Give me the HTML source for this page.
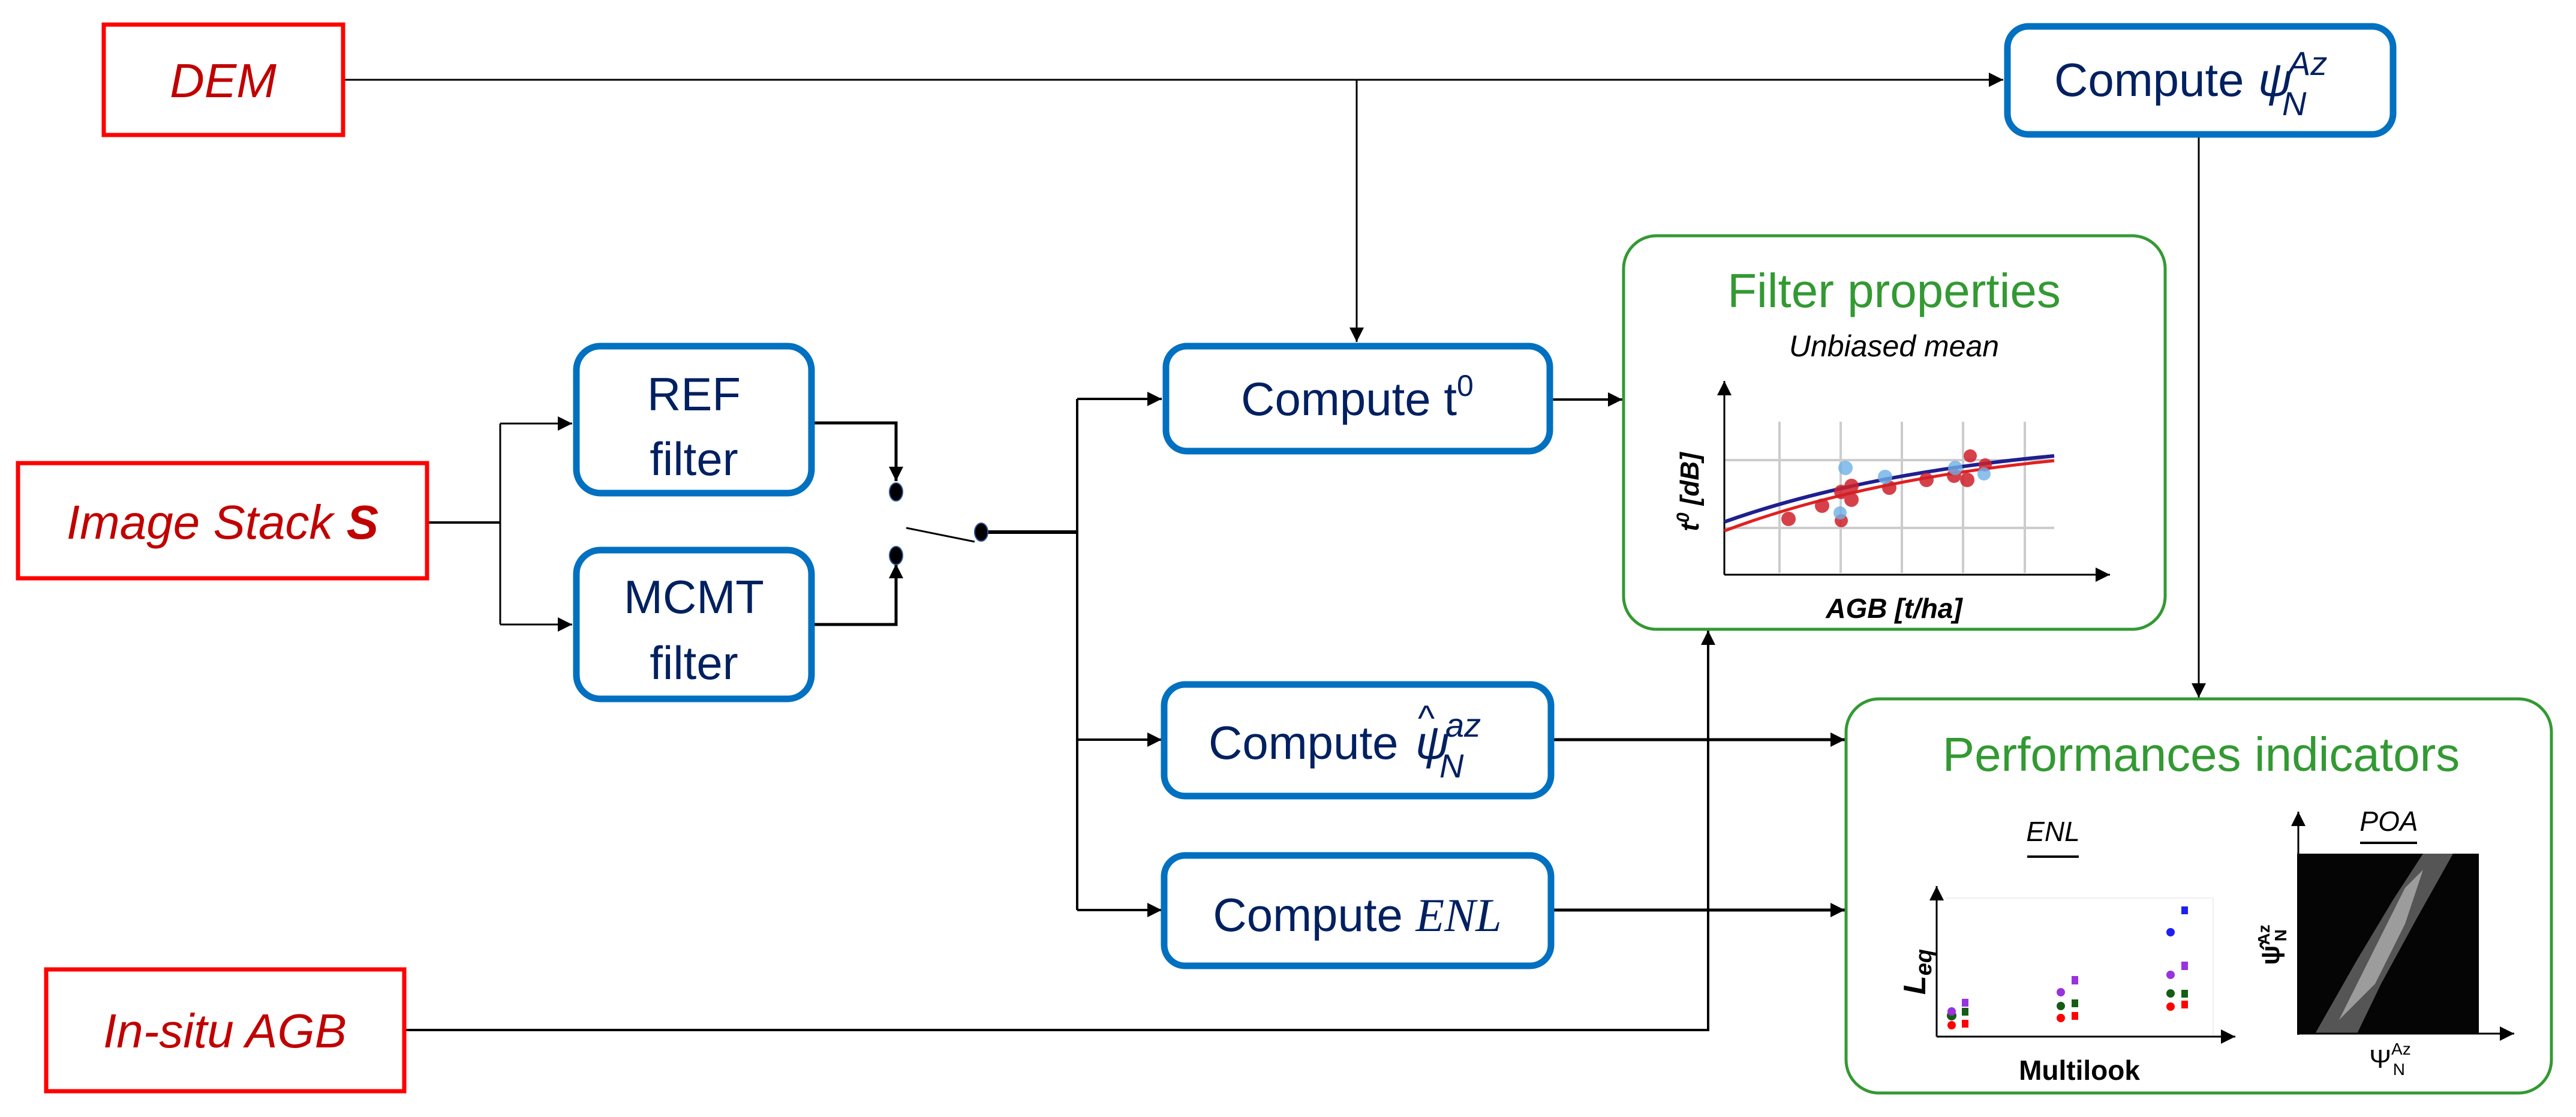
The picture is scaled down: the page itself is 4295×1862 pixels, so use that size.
<!DOCTYPE html>
<html><head><meta charset="utf-8"><style>
html,body{margin:0;padding:0;background:#fff;}
svg{display:block;}
text{font-family:"Liberation Sans",sans-serif;}
</style></head><body>
<svg width="4295" height="1862" viewBox="0 0 4295 1862" xmlns="http://www.w3.org/2000/svg">
<defs>
<marker id="b" viewBox="0 0 10 10" refX="10" refY="5" markerWidth="24" markerHeight="24" markerUnits="userSpaceOnUse" orient="auto"><path d="M0,0 L10,5 L0,10 z" fill="#000"/></marker>
</defs>
<g stroke="#000" fill="none">
<line x1="572" y1="133" x2="3340" y2="133" stroke-width="3" marker-end="url(#b)"/>
<line x1="2262" y1="133" x2="2262" y2="570" stroke-width="3" marker-end="url(#b)"/>
<line x1="3666" y1="228" x2="3666" y2="1163" stroke-width="3" marker-end="url(#b)"/>
<line x1="712" y1="871" x2="834" y2="871" stroke-width="4"/>
<line x1="834" y1="706" x2="834" y2="1041" stroke-width="3"/>
<line x1="834" y1="706" x2="954" y2="706" stroke-width="3" marker-end="url(#b)"/>
<line x1="834" y1="1041" x2="954" y2="1041" stroke-width="3" marker-end="url(#b)"/>
<polyline points="1358,705 1494,705 1494,802" stroke-width="5" marker-end="url(#b)"/>
<polyline points="1358,1041 1494,1041 1494,940" stroke-width="5" marker-end="url(#b)"/>
<line x1="1511" y1="880" x2="1625" y2="903" stroke-width="3"/>
<line x1="1636" y1="887" x2="1796" y2="887" stroke-width="6"/>
<line x1="1796" y1="665" x2="1796" y2="1517" stroke-width="4"/>
<line x1="1796" y1="665" x2="1937" y2="665" stroke-width="4" marker-end="url(#b)"/>
<line x1="1796" y1="1233" x2="1937" y2="1233" stroke-width="4" marker-end="url(#b)"/>
<line x1="1796" y1="1517" x2="1937" y2="1517" stroke-width="4" marker-end="url(#b)"/>
<line x1="2588" y1="666" x2="2705" y2="666" stroke-width="4" marker-end="url(#b)"/>
<line x1="2588" y1="1233" x2="3076" y2="1233" stroke-width="5" marker-end="url(#b)"/>
<line x1="2588" y1="1517" x2="3076" y2="1517" stroke-width="5" marker-end="url(#b)"/>
<polyline points="674,1717 2848,1717 2848,1051" stroke-width="4" marker-end="url(#b)"/>
</g>
<g fill="#000" stroke="#2f5597" stroke-width="2">
<ellipse cx="1494" cy="820" rx="11" ry="15"/>
<ellipse cx="1494" cy="926" rx="11" ry="15"/>
<ellipse cx="1636" cy="887" rx="11" ry="15"/>
</g>
<g fill="#fff" stroke="#ff0000" stroke-width="7">
<rect x="173" y="41" width="399" height="184"/>
<rect x="30" y="772" width="682" height="192"/>
<rect x="77" y="1616" width="597" height="203"/>
</g>
<g fill="#c00000" font-style="italic" font-size="80" text-anchor="middle">
<text x="372" y="162">DEM</text>
<text x="371" y="898">Image Stack <tspan font-weight="bold">S</tspan></text>
<text x="375" y="1746">In-situ AGB</text>
</g>
<g fill="#fff" stroke="#0070c0" stroke-width="11">
<rect x="961" y="577" width="392" height="245" rx="40"/>
<rect x="961" y="917" width="392" height="248" rx="40"/>
<rect x="1944" y="577" width="640" height="175" rx="35"/>
<rect x="1941" y="1141" width="645" height="186" rx="35"/>
<rect x="1941" y="1426" width="645" height="184" rx="35"/>
<rect x="3347" y="44" width="643" height="180" rx="35"/>
</g>
<g fill="#002060" font-size="78" text-anchor="middle">
<text x="1157" y="684">REF</text>
<text x="1157" y="792">filter</text>
<text x="1157" y="1022">MCMT</text>
<text x="1157" y="1132">filter</text>
<text x="2263" y="692">Compute t<tspan dy="-32" font-size="50">0</tspan></text>
<text x="2263" y="1552">Compute <tspan font-family="Liberation Serif" font-style="italic">ENL</tspan></text>
</g>
<g fill="#002060" font-size="78">
<text x="2015" y="1265">Compute</text>
<text x="2360" y="1265" font-family="Liberation Serif" font-style="italic">ψ</text>
<text x="2364" y="1218" font-family="Liberation Serif" font-size="60">^</text>
<text x="2410" y="1228" font-family="Liberation Serif" font-style="italic" font-size="56">az</text>
<text x="2400" y="1296" font-family="Liberation Serif" font-style="italic" font-size="56">N</text>
<text x="3425" y="160">Compute</text>
<text x="3765" y="160" font-family="Liberation Serif" font-style="italic">ψ</text>
<text x="3815" y="125" font-family="Liberation Serif" font-style="italic" font-size="56">Az</text>
<text x="3805" y="192" font-family="Liberation Serif" font-style="italic" font-size="56">N</text>
</g>
<g fill="none" stroke="#339933" stroke-width="5">
<rect x="2707" y="393" width="903" height="656" rx="55"/>
<rect x="3078" y="1165" width="1176" height="657" rx="55"/>
</g>
<g fill="#339933" text-anchor="middle" font-size="80">
<text x="3158" y="512">Filter properties</text>
<text x="3670" y="1285">Performances indicators</text>
</g>
<text x="3158" y="594" font-size="50" font-style="italic" text-anchor="middle">Unbiased mean</text>
<g stroke="#ccc" stroke-width="4">
<line x1="2967" y1="703" x2="2967" y2="955"/><line x1="3069" y1="703" x2="3069" y2="955"/>
<line x1="3171" y1="703" x2="3171" y2="955"/><line x1="3273" y1="703" x2="3273" y2="955"/>
<line x1="3376" y1="703" x2="3376" y2="955"/>
<line x1="2875" y1="767" x2="3425" y2="767"/><line x1="2875" y1="880" x2="3425" y2="880"/>
</g>
<line x1="2875" y1="958" x2="2875" y2="635" stroke="#000" stroke-width="3" marker-end="url(#b)"/>
<line x1="2875" y1="958" x2="3518" y2="958" stroke="#000" stroke-width="3" marker-end="url(#b)"/>
<path d="M2875,870 Q3100,790 3425,760" stroke="#1f1f8f" stroke-width="6" fill="none"/>
<path d="M2875,885 Q3100,800 3425,768" stroke="#e02020" stroke-width="5" fill="none"/>
<g fill="#d0202a" opacity="0.85">
<circle cx="2982" cy="865" r="12"/><circle cx="3038" cy="843" r="12"/><circle cx="3070" cy="820" r="12"/><circle cx="3087" cy="833" r="12"/><circle cx="3070" cy="868" r="11"/><circle cx="3150" cy="813" r="12"/><circle cx="3212" cy="800" r="12"/><circle cx="3258" cy="793" r="12"/><circle cx="3280" cy="800" r="12"/><circle cx="3310" cy="775" r="11"/><circle cx="3087" cy="810" r="12"/><circle cx="3285" cy="760" r="11"/>
</g>
<g fill="#6fb0e8" opacity="0.8">
<circle cx="3077" cy="780" r="12"/><circle cx="3068" cy="855" r="11"/><circle cx="3143" cy="795" r="12"/><circle cx="3260" cy="780" r="12"/><circle cx="3308" cy="790" r="11"/>
</g>
<text transform="translate(2832,820) rotate(-90)" font-size="44" font-weight="bold" font-style="italic" text-anchor="middle">t<tspan dy="-16" font-size="30">0</tspan><tspan dy="16"> [dB]</tspan></text>
<text x="3158" y="1030" font-size="46" font-weight="bold" font-style="italic" text-anchor="middle">AGB [t/ha]</text>
<text x="3423" y="1402" font-size="46" font-style="italic" text-anchor="middle">ENL</text>
<line x1="3380" y1="1428" x2="3466" y2="1428" stroke="#000" stroke-width="4"/>
<line x1="3244" y1="1497" x2="3690" y2="1497" stroke="#eee" stroke-width="2"/>
<line x1="3690" y1="1497" x2="3690" y2="1727" stroke="#eee" stroke-width="2"/>
<line x1="3229" y1="1728" x2="3229" y2="1477" stroke="#000" stroke-width="3" marker-end="url(#b)"/>
<line x1="3229" y1="1728" x2="3727" y2="1728" stroke="#000" stroke-width="3" marker-end="url(#b)"/>
<text transform="translate(3210,1620) rotate(-90)" font-size="52" font-weight="bold" font-style="italic" font-family="Liberation Serif" text-anchor="middle">L<tspan dy="10" font-size="38">eq</tspan></text>
<text x="3467" y="1800" font-size="46" font-weight="bold" text-anchor="middle">Multilook</text>
<g>
<circle cx="3254" cy="1709" r="7" fill="#f00"/><rect x="3271" y="1700" width="11" height="13" fill="#f00"/>
<circle cx="3254" cy="1693" r="8" fill="#155d15"/><rect x="3271" y="1680" width="11" height="13" fill="#155d15"/>
<circle cx="3254" cy="1686" r="7" fill="#9933dd"/><rect x="3271" y="1665" width="11" height="13" fill="#9933dd"/>
<circle cx="3436" cy="1697" r="7" fill="#f00"/><rect x="3454" y="1687" width="11" height="13" fill="#f00"/>
<circle cx="3436" cy="1677" r="7" fill="#155d15"/><rect x="3454" y="1666" width="11" height="13" fill="#155d15"/>
<circle cx="3436" cy="1654" r="7" fill="#9933dd"/><rect x="3454" y="1627" width="11" height="14" fill="#9933dd"/>
<circle cx="3619" cy="1678" r="7" fill="#f00"/><rect x="3637" y="1668" width="11" height="13" fill="#f00"/>
<circle cx="3619" cy="1656" r="7" fill="#155d15"/><rect x="3637" y="1650" width="11" height="13" fill="#155d15"/>
<circle cx="3619" cy="1625" r="7" fill="#9933dd"/><rect x="3637" y="1603" width="11" height="14" fill="#9933dd"/>
<circle cx="3619" cy="1554" r="7" fill="#1f1ff0"/><rect x="3637" y="1511" width="11" height="13" fill="#1f1ff0"/>
</g>
<text x="3983" y="1385" font-size="46" font-style="italic" text-anchor="middle">POA</text>
<line x1="3935" y1="1405" x2="4030" y2="1405" stroke="#000" stroke-width="4"/>
<rect x="3830" y="1423" width="303" height="300" fill="#050505"/>
<path d="M3860,1723 L3930,1600 L3990,1500 L4040,1423 L4090,1423 L4030,1530 L3970,1640 L3930,1723 z" fill="#777" opacity="0.7"/>
<path d="M3900,1700 L3960,1580 L4010,1480 L4040,1450 L4010,1540 L3960,1640 z" fill="#bbb" opacity="0.7"/>
<line x1="3832" y1="1725" x2="3832" y2="1353" stroke="#000" stroke-width="3" marker-end="url(#b)"/>
<line x1="3830" y1="1723" x2="4192" y2="1723" stroke="#000" stroke-width="3" marker-end="url(#b)"/>
<text transform="translate(3800,1575) rotate(-90)" font-size="44" font-weight="bold" font-family="Liberation Serif" text-anchor="middle">ψ̂<tspan dy="-16" font-size="28">Az</tspan><tspan dx="-28" dy="28" font-size="28">N</tspan></text>
<text x="3985" y="1780" font-size="44" font-family="Liberation Serif" text-anchor="middle">Ψ<tspan dy="-22" font-size="28">Az</tspan><tspan dx="-30" dy="34" font-size="28">N</tspan></text>
</svg>
</body></html>
